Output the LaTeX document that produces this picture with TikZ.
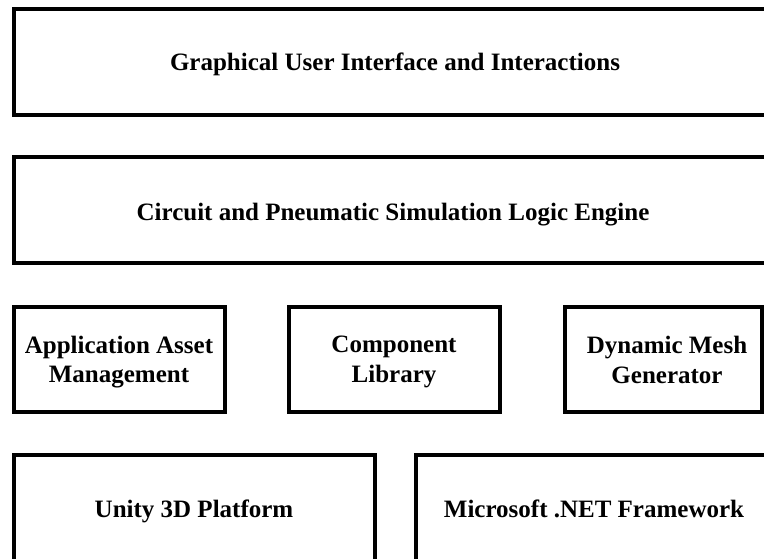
\documentclass[tikz,border=0pt]{standalone}
\usepackage{fontspec}
\setmainfont{Liberation Serif}
\begin{document}
\begin{tikzpicture}[x=1pt,y=-1pt,
  layer/.style={draw=black,line width=4pt},
  lbl/.style={font=\fontsize{25}{29.5}\selectfont\bfseries,align=center,inner sep=0pt}]
\useasboundingbox (0,0) rectangle (764,559);
\clip (0,0) rectangle (764,559);
\draw[layer] (14,9) rectangle (778,115);
\draw[layer] (14,157) rectangle (778,263);
\draw[layer] (14,307) rectangle (225,412);
\draw[layer] (289,307) rectangle (500,412);
\draw[layer] (565,307) rectangle (762,412);
\draw[layer] (14,455) rectangle (375,561);
\draw[layer] (416,455) rectangle (772,561);
\node[lbl] (gui) at (395,64) {Graphical User Interface and Interactions};
\node[lbl] (eng) at (393,215) {Circuit and Pneumatic Simulation Logic Engine};
\node[lbl] (aam) at (119,362) {Application Asset\\Management};
\node[lbl] (cl) at (394,362) {Component\\Library};
\node[lbl] (dmg) at (667,360) {Dynamic Mesh\\Generator};
\node[lbl] (uni) at (194,511) {Unity 3D Platform};
\node[lbl] (net) at (594,509) {Microsoft .NET Framework};
\end{tikzpicture}
\end{document}
